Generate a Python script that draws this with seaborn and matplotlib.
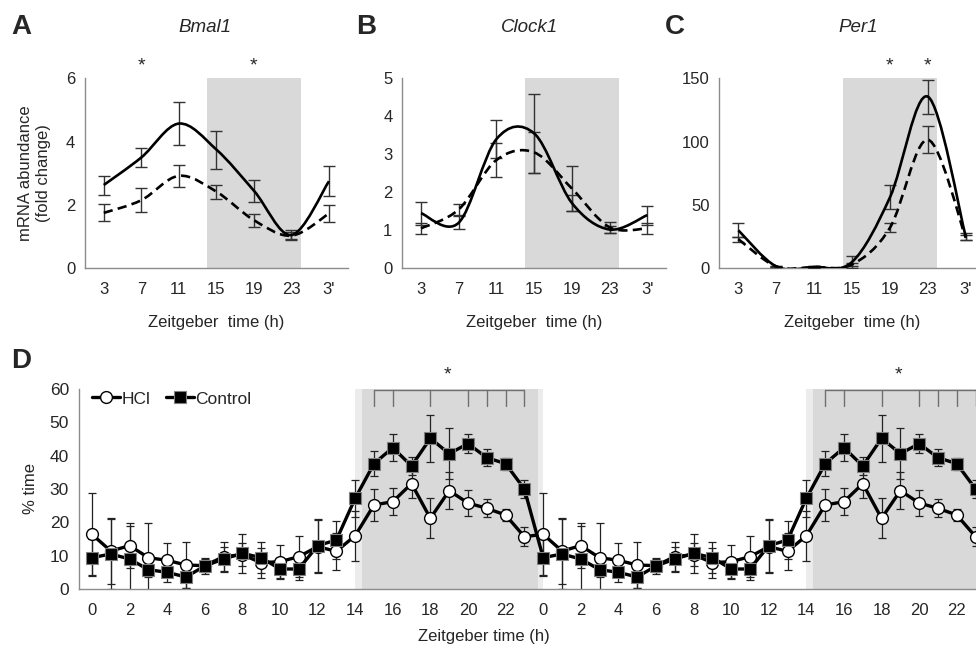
import numpy as np
import pandas as pd
import seaborn as sns
import matplotlib.pyplot as plt
from matplotlib.path import Path
from matplotlib.patches import PathPatch

# panels A-C: ZT 3..23 and 3' of next day
zt_labels = ['3', '7', '11', '15', '19', '23', "3'"]

bmal1_solid = [2.63, 3.5, 4.57, 3.75, 2.45, 1.05, 2.75]
bmal1_solid_err = [0.3, 0.3, 0.67, 0.6, 0.35, 0.15, 0.47]
bmal1_dash = [1.75, 2.15, 2.92, 2.42, 1.52, 1.03, 1.73]
bmal1_dash_err = [0.27, 0.38, 0.35, 0.22, 0.2, 0.12, 0.27]

clock1_solid = [1.45, 1.2, 3.4, 3.55, 1.72, 1.02, 1.4]
clock1_solid_err = [0.3, 0.17, 0.5, 1.05, 0.2, 0.1, 0.25]
clock1_dash = [1.05, 1.55, 2.85, 3.05, 2.1, 1.08, 1.05]
clock1_dash_err = [0.15, 0.15, 0.45, 0.55, 0.6, 0.15, 0.15]

per1_solid = [30, 1.5, 1.0, 5.0, 56, 135.5, 25]
per1_solid_err = [5.5, 0.5, 0.5, 5, 9.5, 13.5, 3]
per1_dash = [23, 1.5, 1.0, 3, 32, 101.5, 24]
per1_dash_err = [2, 0.5, 0.5, 1, 3.5, 10.5, 2]

# panel D: hourly % time, double plotted
hours = list(range(24))
hcl = [16.4, 11.4, 13.0, 9.4, 8.6, 7.2, 7.0, 9.7, 10.3, 7.9, 8.2, 9.7,
       12.7, 11.3, 16.0, 25.2, 26.2, 31.6, 21.2, 29.5, 25.8, 24.2, 22.2, 15.7]
hcl_err = [12.3, 10.0, 6.7, 10.5, 5.1, 7.0, 2.0, 4.5, 3.5, 4.5, 5.0, 6.2,
           8.0, 5.5, 7.5, 4.7, 4.0, 4.4, 6.0, 5.6, 3.8, 2.7, 1.8, 2.8]
ctrl = [9.4, 10.5, 9.0, 5.8, 5.0, 3.6, 6.9, 9.0, 10.7, 9.4, 6.0, 6.0,
        13.0, 14.7, 27.2, 37.6, 42.4, 36.9, 45.2, 40.6, 43.6, 39.4, 37.6, 30.0]
ctrl_err = [5.5, 10.5, 10.0, 2.2, 2.8, 3.3, 2.5, 3.5, 5.8, 4.6, 3.0, 3.2,
            8.0, 5.7, 5.5, 3.7, 4.0, 2.7, 7.0, 7.7, 2.8, 2.5, 1.8, 2.8]
bracket_hours = [15, 16, 18, 20, 21, 22, 23]

sns.set_style('white')
plt.rcParams['font.family'] = ['Liberation Sans', 'DejaVu Sans']

SPINE = '#8c8c8c'
SHADE = '#d9d9d9'

fig = plt.figure(figsize=(9.76, 6.51), dpi=100)


def px_axes(l, r, t, b):
    return fig.add_axes([l / 976, 1 - b / 651, (r - l) / 976, (b - t) / 651])


def smooth(ax, ys, ls):
    # excel-like smoothed line: bezier segments through the points
    xs = np.arange(len(ys), dtype=float)
    ys = np.asarray(ys, dtype=float)
    n = len(xs)
    verts = [(xs[0], ys[0])]
    codes = [Path.MOVETO]
    for i in range(n - 1):
        a = max(i - 1, 0)
        d = min(i + 2, n - 1)
        c1 = (xs[i] + (xs[i + 1] - xs[a]) / 6, ys[i] + (ys[i + 1] - ys[a]) / 6)
        c2 = (xs[i + 1] - (xs[d] - xs[i]) / 6, ys[i + 1] - (ys[d] - ys[i]) / 6)
        verts += [c1, c2, (xs[i + 1], ys[i + 1])]
        codes += [Path.CURVE4] * 3
    patch = PathPatch(Path(verts, codes), fill=False, lw=1.9, ec='black',
                      ls=ls, zorder=4)
    ax.add_patch(patch)


def style_small(ax, ymax, ystep):
    ax.axvspan(2.75, 5.25, color=SHADE, lw=0, zorder=0)
    ax.set_xlim(-0.5, 6.5)
    ax.set_ylim(0, ymax)
    ax.set_xticks(range(7))
    ax.set_xticklabels(zt_labels, fontsize=12)
    ax.set_yticks(np.arange(0, ymax + 0.01, ystep))
    ax.tick_params(axis='y', length=4, color=SPINE, labelsize=12, pad=3)
    ax.tick_params(axis='x', length=0, pad=10)
    for s in ['top', 'right']:
        ax.spines[s].set_visible(False)
    for s in ['left', 'bottom']:
        ax.spines[s].set_color(SPINE)
        ax.spines[s].set_linewidth(1.0)
    ax.set_xlabel('Zeitgeber  time (h)', fontsize=12)
    ax.xaxis.set_label_coords(0.5, -0.245)
    ax.xaxis.label.set_va('top')


panels = [
    (px_axes(85, 347.75, 78.3, 268.3), bmal1_solid, bmal1_solid_err,
     bmal1_dash, bmal1_dash_err, 6, 2, 'Bmal1', 205),
    (px_axes(402.2, 666.1, 78.3, 268.3), clock1_solid, clock1_solid_err,
     clock1_dash, clock1_dash_err, 5, 1, 'Clock1', 530),
    (px_axes(719.4, 984.7, 78.3, 268.3), per1_solid, per1_solid_err,
     per1_dash, per1_dash_err, 150, 50, 'Per1', 858),
]

for ax, sol, sol_e, dsh, dsh_e, ymax, ystep, title, tx in panels:
    style_small(ax, ymax, ystep)
    idx = np.arange(7)
    ax.errorbar(idx, sol, yerr=sol_e, fmt='none', ecolor='#333333',
                elinewidth=1.0, capsize=4.5, capthick=1.0, zorder=3)
    ax.errorbar(idx, dsh, yerr=dsh_e, fmt='none', ecolor='#333333',
                elinewidth=1.0, capsize=4.5, capthick=1.0, zorder=3)
    smooth(ax, sol, '-')
    smooth(ax, dsh, (0, (3.5, 2)))
    fig.text(tx / 976, 1 - 27 / 651, title, fontsize=13.5, style='italic',
             ha='center', va='center')

axA, axB, axC = panels[0][0], panels[1][0], panels[2][0]
axA.set_ylabel('mRNA abundance\n(fold change)', fontsize=12, linespacing=1.2)
axA.yaxis.set_label_coords(-0.13, 0.5)

for x in [1, 4]:
    axA.text(x, 6.4, '*', fontsize=14, ha='center', va='center', clip_on=False)
for x in [4, 5]:
    axC.text(x, 160, '*', fontsize=14, ha='center', va='center', clip_on=False)

# panel D
axD = px_axes(78.8, 990.6, 389, 589)
x48 = np.arange(48)
df = pd.DataFrame({
    'hour': x48,
    'HCl': hcl + hcl,
    'HCl_err': hcl_err + hcl_err,
    'Control': ctrl + ctrl,
    'Control_err': ctrl_err + ctrl_err,
})

for start in [0, 24]:
    axD.axvspan(start + 14.0, start + 24.0, color='#ececec', lw=0, zorder=0)
    axD.axvspan(start + 14.35, start + 23.75, color=SHADE, lw=0, zorder=0)

axD.errorbar(df['hour'], df['HCl'], yerr=df['HCl_err'], fmt='none',
             ecolor='#222222', elinewidth=0.9, capsize=3, capthick=0.9, zorder=2)
axD.errorbar(df['hour'], df['Control'], yerr=df['Control_err'], fmt='none',
             ecolor='#222222', elinewidth=0.9, capsize=3, capthick=0.9, zorder=2)

sns.lineplot(data=df, x='hour', y='HCl', ax=axD, color='black', lw=2.4,
             marker='o', markersize=8.5, markerfacecolor='white',
             markeredgecolor='black', markeredgewidth=1.0, label='HCl',
             zorder=4)
sns.lineplot(data=df, x='hour', y='Control', ax=axD, color='black', lw=2.4,
             marker='s', markersize=8, markerfacecolor='black',
             markeredgecolor='#808080', markeredgewidth=0.8, label='Control',
             zorder=5)

axD.set_xlim(-0.7, 47.8)
axD.set_ylim(0, 60)
axD.set_yticks(range(0, 61, 10))
axD.set_xticks(x48)
axD.set_xticklabels([str(h % 24) if h % 2 == 0 else '' for h in x48])
axD.tick_params(axis='x', length=5, color=SPINE, labelsize=12, pad=5)
axD.tick_params(axis='y', length=4, color=SPINE, labelsize=12.5, pad=3)
for s in ['top', 'right']:
    axD.spines[s].set_visible(False)
for s in ['left', 'bottom']:
    axD.spines[s].set_color(SPINE)
    axD.spines[s].set_linewidth(1.0)

axD.set_xlabel('Zeitgeber time (h)', fontsize=12)
axD.xaxis.set_label_coords(0.444, -0.2)
axD.xaxis.label.set_va('top')
axD.set_ylabel('% time', fontsize=12)
axD.yaxis.set_label_coords(-0.045, 0.5)

# significance brackets over the dark phase
for start in [0, 24]:
    xs = [start + h for h in bracket_hours]
    axD.plot([xs[0], xs[-1]], [59.8, 59.8], color='#707070', lw=1.0,
             clip_on=False, zorder=6)
    for x in xs:
        axD.plot([x, x], [55, 59.8], color='#707070', lw=1.0, clip_on=False,
                 zorder=6)
    axD.text(start + 18.9, 64.3, '*', fontsize=14, ha='center', va='center',
             clip_on=False)

axD.legend(loc='upper left', bbox_to_anchor=(0.003, 1.04), ncol=2,
           frameon=False, fontsize=12.5, handlelength=1.6, handletextpad=0.1,
           columnspacing=0.9, borderaxespad=0.2)

for letter, x, y in [('A', 11, 27), ('B', 356, 27), ('C', 665, 27), ('D', 11, 361)]:
    fig.text(x / 976, 1 - y / 651, letter, fontsize=20, fontweight='bold',
             ha='left', va='center')

fig.savefig('out.png', dpi=100)
